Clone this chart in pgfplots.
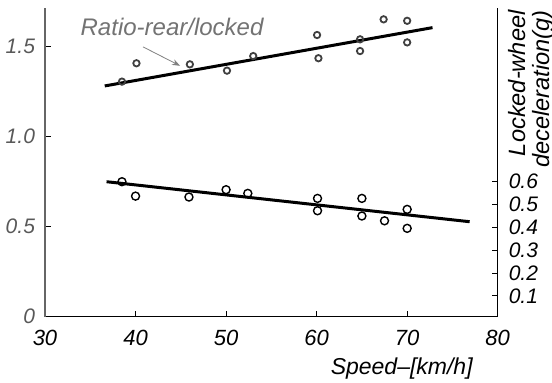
\documentclass[border=0pt]{standalone}
\usepackage{pgfplots}
\pgfplotsset{compat=1.18}
\usetikzlibrary{arrows.meta}
\usepackage{fontspec}
\setmainfont{Liberation Sans}
\begin{document}
\begin{tikzpicture}
\useasboundingbox (-22.5pt,-32.65pt) rectangle (253.5pt,158.35pt);
\begin{axis}[
  at={(0,0)}, anchor=south west,
  scale only axis, width=226.35pt, height=154.35pt,
  xmin=30, xmax=80, ymin=0, ymax=1.715,
  axis x line=bottom, axis y line=left,
  axis line style={-},
  x axis line style={-, black, line width=0.7pt},
  y axis line style={-, black!60, line width=0.6pt},
  tick align=inside, major tick length=3pt,
  tick style={black, line width=0.5pt},
  xtick={30,40,50,60,70,80}, xticklabels={30,40,50,60,70,80},
  ytick={0,0.5,1,1.5}, yticklabels={0,0.5,1.0,1.5},
  xticklabel style={font=\fontsize{11}{13}\selectfont\itshape, yshift=-3pt},
  yticklabel style={font=\fontsize{10.5}{12}\selectfont\itshape, text=black!65, xshift=-1.5pt},
  clip=false,
]
\addplot[only marks, mark=o, mark size=1.6pt, mark options={line width=0.9pt, draw=black!75}] coordinates {
  (38.5,1.306) (40.1,1.408) (46.0,1.402) (50.1,1.367) (53.0,1.448)
  (60.05,1.565) (60.2,1.436) (64.8,1.476) (64.8,1.541) (67.4,1.652)
  (70.0,1.644) (70.0,1.524)};
\addplot[black, line width=1.5pt] coordinates {(36.6,1.282) (72.8,1.606)};
\node[font=\fontsize{12}{14}\selectfont\itshape, text=black!55] at (axis cs:44.03,1.612) {Ratio-rear/locked};
\draw[black!50, line width=0.4pt, -{Stealth[length=4pt,width=3pt]}] (axis cs:40.83,1.499) -- (axis cs:44.92,1.394);
\node[font=\fontsize{11.5}{13}\selectfont\itshape, anchor=north] at (rel axis cs:0.788,0) [yshift=-17pt] {Speed–[km/h]};
\end{axis}
\begin{axis}[
  at={(0,0)}, anchor=south west,
  scale only axis, width=226.35pt, height=154.35pt,
  xmin=30, xmax=80, ymin=0.0094, ymax=1.36,
  axis x line=none, axis y line=right,
  axis line style={-, black, line width=0.7pt},
  tick align=inside, major tick length=3pt,
  tick style={black, line width=0.5pt},
  ytick={0.1,0.2,0.3,0.4,0.5,0.6}, yticklabels={0.1,0.2,0.3,0.4,0.5,0.6},
  yticklabel style={font=\fontsize{10.5}{12}\selectfont\itshape, xshift=2pt},
  clip=false,
]
\addplot[only marks, mark=o, mark size=2pt, mark options={line width=0.7pt, draw=black}] coordinates {
  (38.5,0.600) (40.0,0.537) (45.9,0.533) (50.0,0.565) (52.4,0.549)
  (60.1,0.527) (60.1,0.473) (65.0,0.527) (65.0,0.450) (67.5,0.429)
  (70.0,0.479) (70.0,0.396)};
\addplot[black, line width=1.5pt] coordinates {(36.8,0.600) (76.9,0.425)};
\node[xshift=5pt, yshift=-1pt, rotate=90, anchor=north east, align=right, inner sep=0pt, font=\fontsize{11.8}{12}\selectfont\itshape] at (rel axis cs:1,1) {Locked-wheel\\deceleration(g)};
\end{axis}
\end{tikzpicture}
\end{document}
